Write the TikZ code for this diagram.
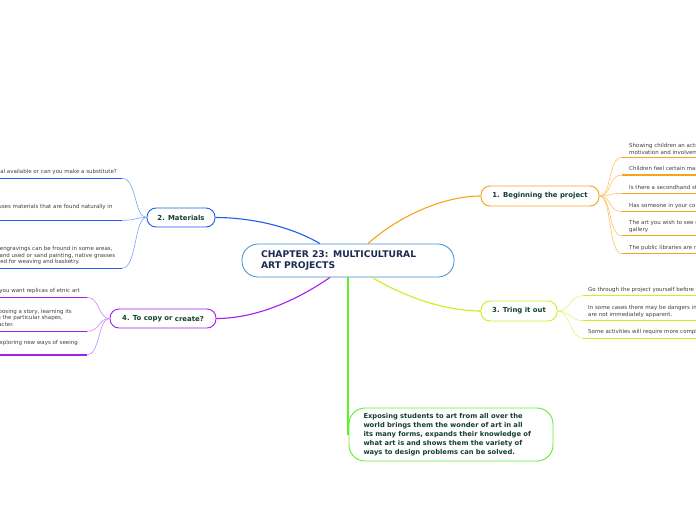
\documentclass[tikz,border=0pt]{standalone}
\usepackage{fontspec}
\setmainfont{DejaVu Sans}
\definecolor{orA}{HTML}{F7A41D}
\definecolor{orB}{HTML}{FDC46A}
\definecolor{blA}{HTML}{1F5CF0}
\definecolor{blB}{HTML}{7AA2F6}
\definecolor{ygA}{HTML}{CDEE1E}
\definecolor{ygB}{HTML}{E2F57A}
\definecolor{puA}{HTML}{A21FF0}
\definecolor{puB}{HTML}{C98AF6}
\definecolor{grA}{HTML}{5EF02A}
\definecolor{cenB}{HTML}{3D8FD6}
\definecolor{labc}{HTML}{143F30}
\definecolor{cenc}{HTML}{1D2B52}
\definecolor{leafc}{HTML}{404040}
\tikzset{
  topic/.style={draw, fill=white, rounded corners=9pt, line width=0.9pt, inner sep=0pt,
    font=\fontsize{6.9}{8}\selectfont\bfseries, text=labc},
  leaf/.style={font=\fontsize{5.5}{7}\selectfont, text=leafc, inner sep=0pt, align=left},
  leafl/.style={font=\fontsize{5.5}{6.5}\selectfont, text=leafc, inner sep=0pt, anchor=east},
  uline/.style={line width=1.4pt},
  thin/.style={line width=0.6pt},
  main/.style={line width=1.1pt}
}
\begin{document}
\begin{tikzpicture}[x=1pt,y=-1pt]
\useasboundingbox (0,0) rectangle (696,520);
\clip (0,0) rectangle (696,520);
\fill[white] (0,0) rectangle (696,520);

% central topic
\node[draw=cenB, fill=white, line width=0.8pt, rounded corners=16pt, minimum width=212pt,
  minimum height=33pt, inner sep=0pt, text width=174pt, align=left,
  font=\fontsize{9.2}{11}\selectfont\bfseries, text=cenc] (c) at (348,260.5)
  {CHAPTER 23: MULTICULTURAL\\ART PROJECTS};

% main topics
\node[topic, draw=orA, minimum width=118pt, minimum height=20pt] (n1) at (540,196) {1. Beginning the project};
\node[topic, draw=blA, minimum width=68pt, minimum height=19pt] (n2) at (181,217.5) {2. Materials};
\node[topic, draw=ygA, minimum width=76pt, minimum height=20pt] (n3) at (519,311) {3. Tring it out};
\node[topic, draw=puA, minimum width=106pt, minimum height=19pt] (n4) at (163,318.5) {4. To copy or \raisebox{-1.2pt}{create?}};
\node[draw=grA, fill=white, line width=0.9pt, rounded corners=16pt, minimum width=204pt,
  minimum height=53pt, inner sep=0pt, text width=175pt, align=left,
  font=\fontsize{6.75}{9}\selectfont\bfseries, text=labc] (g) at (451,434.5)
  {Exposing students to art from all over the\\world brings them the wonder of art in all\\its many forms, expands their knowledge of\\what art is and shows them the variety of\\ways to design problems can be solved.};

% main connectors
\draw[main, orA] ([xshift=20pt]c.north) .. controls (400,215) and (445,196) .. (n1.west);
\draw[main, blA] ([xshift=-28pt]c.north) .. controls (290,226) and (250,217.5) .. (n2.east);
\draw[main, ygA] ([xshift=24pt]c.south) .. controls (410,300) and (450,311) .. (n3.west);
\draw[main, puA] ([xshift=-18pt]c.south) .. controls (290,305) and (250,318.5) .. (n4.east);
\draw[main, grA] (c.south) -- (c.south |- g.west);

% ---- branch 1 leaves
\foreach \yy [count=\i] in {157.3,175,193.3,211.7,235.7,253.7}{
  \coordinate (a\i) at (622,\yy);
  \draw[thin, orB] (n1.east) .. controls (612,196) and (608,\yy) .. (a\i);
  \draw[uline, orA] (a\i) -- ++(80,0);
}
\node[leaf, anchor=west] (t11) at (629,148.5) {Showing children an actual\\motivation and involvement};
\node[leaf, anchor=west] (t12) at (629,169) {Children feel certain magic};
\node[leaf, anchor=west] (t13) at (629,187.3) {Is there a secondhand store};
\node[leaf, anchor=west] (t14) at (629,205.5) {Has someone in your community};
\node[leaf, anchor=west] (t15) at (629,226.7) {The art you wish to see could\\gallery};
\node[leaf, anchor=west] (t16) at (629,247.7) {The public libraries are not};

% ---- branch 3 leaves
\foreach \yy [count=\i] in {295.7,320.7,338.3}{
  \coordinate (b\i) at (583,\yy);
  \draw[thin, ygB] (n3.east) .. controls (570,311) and (570,\yy) .. (b\i);
  \draw[uline, ygA] (b\i) -- ++(120,0);
}
\node[leaf, anchor=west] (t31) at (588,290) {Go through the project yourself before};
\node[leaf, anchor=west] (t32) at (588,311.2) {In some cases there may be dangers in\\are not immediately apparent.};
\node[leaf, anchor=west] (t33) at (588,332.3) {Some activities will require more complex};

% ---- branch 2 leaves
\foreach \yy [count=\i] in {178.3,220.3,268.3}{
  \coordinate (m\i) at (122,\yy);
  \draw[thin, blB] (n2.west) .. controls (134,217.5) and (137,\yy) .. (m\i);
  \draw[uline, blA] (m\i) -- ++(-130,0);
}
\node[leafl] (t21) at (117,172) {rial available or can you make a substitute?};
\node[leafl] (t22) at (112.7,207) {uses materials that are found naturally in};
\node[leafl] (t23a) at (112.7,249.3) {engravings can be fround in some areas,};
\node[leafl] (t23b) at (115.3,255.5) {and used or sand painting, native grasses};
\node[leafl] (t23c) at (80,261.8) {ed for weaving and basketry.};

% ---- branch 4 leaves
\foreach \yy [count=\i] in {297.3,331.3,355}{
  \coordinate (p\i) at (87,\yy);
  \draw[thin, puB] (n4.west) .. controls (98,318.5) and (100,\yy) .. (p\i);
  \draw[uline, puA] (p\i) -- ++(-95,0);
}
\node[leafl] (t41) at (80,290.5) {you want replicas of etnic art};
\node[leafl] (t42a) at (72,312) {choosing a story, learning its};
\node[leafl] (t42b) at (63,318.2) {ing the particular shapes,};
\node[leafl] (t42c) at (14,324.6) {racter.};
\node[leafl] (t43) at (78,343) {exploring new ways of seeing};
\end{tikzpicture}
\end{document}
